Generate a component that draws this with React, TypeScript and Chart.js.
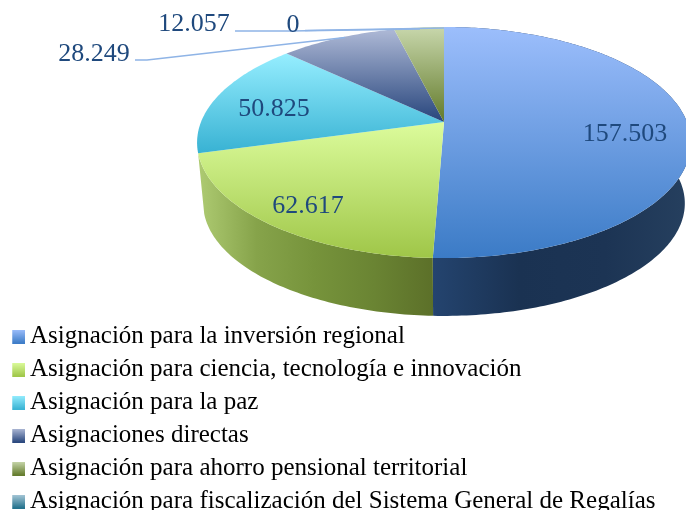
import React, { useEffect, useRef } from "react";
import { Chart, registerables } from "chart.js";

Chart.register(...registerables);

const categories = [
  "Asignación para la inversión regional",
  "Asignación para ciencia, tecnología e innovación",
  "Asignación para la paz",
  "Asignaciones directas",
  "Asignación para ahorro pensional territorial",
  "Asignación para fiscalización del Sistema General de Regalías",
];
const values = [157.503, 62.617, 50.825, 28.249, 12.057, 0];
const valueLabels = ["157.503", "62.617", "50.825", "28.249", "12.057", "0"];

const topStart = ["#9cbefc", "#dcfc9c", "#96eeff", "#aeb9d6", "#c8d7ac", "#a8c8d8"];
const topEnd = ["#3b7bc6", "#9fc648", "#38b2d3", "#27457c", "#627a2a", "#1f6f8a"];
// only the slices that face the viewer show a side wall
const sideStops: string[][] = [
  ["#24446f", "#1a3252", "#1c3454", "#26405f"],
  ["#aecb72", "#86a34a", "#76933b", "#6a8433", "#5c7029"],
];
const labelCentres = [
  [625, 134.5],
  [308, 206.5],
  [274, 109.5],
  [94, 54.5],
  [194, 24.5],
  [293, 25.5],
];
const leaderLines = [
  [[135, 60], [147, 60], [345, 37.5]],
  [[235, 31], [290, 31], [420, 29]],
  [[305, 30.5], [444, 28]],
];

// Perspective view of the pie's unit circle, for the top and the bottom face.
const K = -0.1775;
const project = (t: number, face: { y: number; a: number; d: number }) => {
  const u = Math.cos(t);
  const v = Math.sin(t);
  const w = 1 + K * v;
  return [444 + (face.d * u) / w, face.y + (face.a * v) / w];
};
const TOP = { y: 122, a: 111.9, d: 243 };
const BOTTOM = { y: 183.4, a: 109, d: 237 };

const arcPoints = (a0: number, a1: number, face: typeof TOP) => {
  const n = Math.max(2, Math.ceil((a1 - a0) * 60));
  const pts: number[][] = [];
  for (let i = 0; i <= n; i++) pts.push(project(a0 + ((a1 - a0) * i) / n, face));
  return pts;
};

const pie3d = {
  id: "pie3d",
  afterLayout(chart: any) {
    // the legend's long rows may run across the full width of the canvas
    chart.legend.width = 686;
    chart.legend.right = 686;
  },
  beforeDatasetsDraw(chart: any) {
    const ctx: CanvasRenderingContext2D = chart.ctx;
    const arcs = chart.getDatasetMeta(0).data;
    ctx.save();
    // side wall
    arcs.forEach((arc: any, i: number) => {
      const { startAngle: a0, endAngle: a1 } = arc;
      const stops = sideStops[i];
      if (!stops || a1 - a0 < 1e-6) return;
      const t = arcPoints(a0, a1, TOP);
      const b = arcPoints(a0, a1, BOTTOM).reverse();
      const pts = [...t, ...b];
      const xs = pts.map((p) => p[0]);
      const g = ctx.createLinearGradient(Math.min(...xs), 0, Math.max(...xs), 0);
      stops.forEach((c, k) => g.addColorStop(k / (stops.length - 1), c));
      ctx.fillStyle = g;
      ctx.beginPath();
      pts.forEach((p, k) => (k ? ctx.lineTo(p[0], p[1]) : ctx.moveTo(p[0], p[1])));
      ctx.closePath();
      ctx.fill();
    });
    // top face
    arcs.forEach((arc: any, i: number) => {
      const { startAngle: a0, endAngle: a1 } = arc;
      if (a1 - a0 < 1e-6) return;
      const pts = [[444, TOP.y], ...arcPoints(a0, a1, TOP)];
      const ys = pts.map((p) => p[1]);
      const g = ctx.createLinearGradient(0, Math.min(...ys), 0, Math.max(...ys));
      g.addColorStop(0, topStart[i]);
      g.addColorStop(1, topEnd[i]);
      ctx.fillStyle = g;
      ctx.beginPath();
      pts.forEach((p, k) => (k ? ctx.lineTo(p[0], p[1]) : ctx.moveTo(p[0], p[1])));
      ctx.closePath();
      ctx.fill();
    });
    ctx.restore();
    return false;
  },
  afterDraw(chart: any) {
    const ctx: CanvasRenderingContext2D = chart.ctx;
    ctx.save();
    ctx.strokeStyle = "#8fb4e6";
    ctx.lineWidth = 1.6;
    leaderLines.forEach((l) => {
      ctx.beginPath();
      l.forEach((p, k) => (k ? ctx.lineTo(p[0], p[1]) : ctx.moveTo(p[0], p[1])));
      ctx.stroke();
    });
    ctx.fillStyle = "#1f497d";
    ctx.font = '26px "Liberation Serif"';
    ctx.textAlign = "center";
    ctx.textBaseline = "middle";
    valueLabels.forEach((s, i) => ctx.fillText(s, labelCentres[i][0], labelCentres[i][1]));
    ctx.restore();
  },
};

const swatch = (i: number) => {
  const c = document.createElement("canvas");
  c.width = 26;
  c.height = 14;
  const x = c.getContext("2d")!;
  const g = x.createLinearGradient(0, 0, 0, 14);
  g.addColorStop(0, topStart[i]);
  g.addColorStop(1, topEnd[i]);
  x.fillStyle = g;
  x.fillRect(13, 0, 13, 14);
  return c;
};

export default function App() {
  const ref = useRef<HTMLCanvasElement>(null);
  useEffect(() => {
    const chart = new Chart(ref.current!, {
      type: "pie",
      data: {
        labels: categories,
        datasets: [{ data: values, backgroundColor: topEnd, borderWidth: 0 }],
      },
      options: {
        responsive: false,
        animation: false,
        layout: { padding: { top: 316, bottom: -30, left: -1 } },
        plugins: {
          tooltip: { enabled: false },
          legend: {
            position: "left",
            align: "start",
            labels: {
              color: "#111111",
              font: { family: '"Liberation Serif"', size: 25, lineHeight: 1.2 },
              padding: 8,
              boxWidth: 10.5,
              usePointStyle: true,
              pointStyleWidth: 10.5,
              generateLabels: () =>
                categories.map((text, i) => ({
                  text,
                  pointStyle: swatch(i),
                  fillStyle: topEnd[i],
                  strokeStyle: "transparent",
                  lineWidth: 0,
                  hidden: false,
                  index: i,
                })),
            },
          },
        },
      } as any,
      plugins: [pie3d],
    });
    return () => chart.destroy();
  }, []);
  return (
    <div style={{ position: "absolute", left: 0, top: 0, width: 686, height: 510, background: "#fff" }}>
      <canvas ref={ref} width={686} height={510} style={{ display: "block" }} />
    </div>
  );
}
